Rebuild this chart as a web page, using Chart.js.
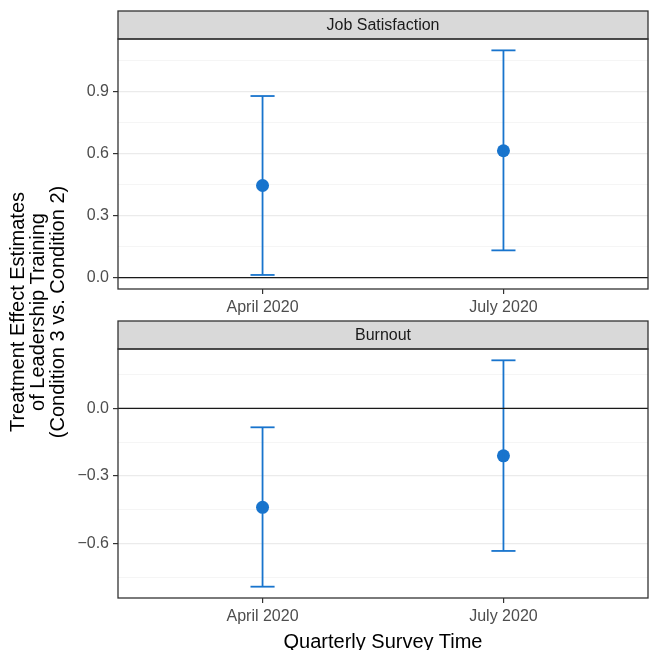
<!DOCTYPE html>
<html>
<head>
<meta charset="utf-8">
<script src="https://cdn.jsdelivr.net/npm/chart.js@4/dist/chart.umd.min.js"></script>
<style>
  body { margin: 0; background: #fff; font-family: "Liberation Sans", Arial, sans-serif; }
  #page { position: relative; width: 649px; height: 650px; overflow: hidden; }
  canvas { position: absolute; left: 0; }
  #ytitle {
    position: absolute; left: -128px; top: 282px; width: 330px; height: 60px;
    transform: rotate(-90deg); text-align: center; font-size: 20px; line-height: 20px; color: #000;
  }
  #xtitle {
    position: absolute; left: 183px; top: 631px; width: 400px; text-align: center;
    font-size: 20px; line-height: 21px; color: #000;
  }
</style>
</head>
<body>
<div id="page">
  <canvas id="topChart" width="649" height="330" style="top:0"></canvas>
  <canvas id="bottomChart" width="649" height="350" style="top:300px"></canvas>
  <div id="ytitle">Treatment Effect Estimates<br>of Leadership Training<br>(Condition 3 vs. Condition 2)</div>
  <div id="xtitle">Quarterly Survey Time</div>
</div>
<script>
const timeLabels = ['April 2020', 'July 2020'];

const jobEst  = [0.446, 0.614];
const jobLow  = [0.013, 0.132];
const jobHigh = [0.879, 1.100];
const jobMajor = [0, 0.3, 0.6, 0.9];
const jobMinor = [0.15, 0.45, 0.75, 1.05];

const burnEst  = [-0.440, -0.211];
const burnLow  = [-0.793, -0.634];
const burnHigh = [-0.084, 0.214];
const burnMajor = [-0.6, -0.3, 0];
const burnMinor = [-0.75, -0.45, -0.15, 0.15];

const blue = '#1874CD';
const capHalf = 0.05;   // errorbar width 0.1
const xMin = 0.4, xMax = 2.6;
const fontFamily = '"Liberation Sans", Arial, sans-serif';

const panelPlugin = {
  id: 'panel',
  afterDraw(chart, args, opts) {
    const ctx = chart.ctx;
    const a = chart.chartArea;
    ctx.save();
    // strip
    ctx.fillStyle = '#d9d9d9';
    ctx.fillRect(a.left, a.top - 28, a.right - a.left, 28);
    ctx.strokeStyle = '#333333';
    ctx.lineWidth = 1.3;
    ctx.strokeRect(a.left, a.top - 28, a.right - a.left, 28);
    ctx.fillStyle = '#1a1a1a';
    ctx.font = '16px ' + fontFamily;
    ctx.textAlign = 'center';
    ctx.textBaseline = 'middle';
    ctx.fillText(opts.label, (a.left + a.right) / 2, a.top - 13.5);
    // panel border
    ctx.strokeRect(a.left, a.top, a.right - a.left, a.bottom - a.top);
    ctx.restore();
  }
};

function buildChart(id, label, est, low, high, major, minor, topPad, bottomPad) {
  const lo = Math.min(0, ...low);
  const hi = Math.max(0, ...high);
  const pad = (hi - lo) * 0.05;
  const allTicks = major.concat(minor).sort((a, b) => a - b);
  const isMajor = v => major.some(m => Math.abs(m - v) < 1e-9);

  const datasets = [];
  datasets.push({
    data: [{x: xMin, y: 0}, {x: xMax, y: 0}],
    showLine: true, borderColor: '#1a1a1a', borderWidth: 1.2, pointRadius: 0
  });
  est.forEach((v, i) => {
    const x = i + 1;
    const line = {showLine: true, borderColor: blue, borderWidth: 1.8, pointRadius: 0};
    datasets.push(Object.assign({data: [{x: x, y: low[i]}, {x: x, y: high[i]}]}, line));
    datasets.push(Object.assign({data: [{x: x - capHalf, y: low[i]}, {x: x + capHalf, y: low[i]}]}, line));
    datasets.push(Object.assign({data: [{x: x - capHalf, y: high[i]}, {x: x + capHalf, y: high[i]}]}, line));
  });
  datasets.push({
    data: est.map((v, i) => ({x: i + 1, y: v})),
    showLine: false, pointRadius: 6.5, pointBackgroundColor: blue, pointBorderColor: blue, borderWidth: 0
  });

  return new Chart(document.getElementById(id), {
    type: 'scatter',
    data: { datasets: datasets },
    plugins: [panelPlugin],
    options: {
      responsive: false,
      animation: false,
      devicePixelRatio: 1,
      layout: { autoPadding: false, padding: { top: topPad, right: 1, left: 0, bottom: bottomPad } },
      plugins: {
        legend: { display: false },
        tooltip: { enabled: false },
        panel: { label: label }
      },
      scales: {
        x: {
          type: 'linear', min: xMin, max: xMax,
          afterFit: s => { s.height = 28; s.paddingLeft = 0; s.paddingRight = 0; },
          afterBuildTicks: s => { s.ticks = timeLabels.map((t, i) => ({value: i + 1})); },
          ticks: {
            callback: v => timeLabels[v - 1],
            color: '#4d4d4d', padding: 4, maxRotation: 0,
            font: { family: fontFamily, size: 16 }
          },
          grid: { drawOnChartArea: false, lineWidth: 1.2, tickLength: 5, tickColor: '#333333' },
          border: { display: false }
        },
        y: {
          type: 'linear', min: lo - pad, max: hi + pad,
          afterFit: s => { s.width = 118; s.paddingTop = 0; s.paddingBottom = 0; },
          afterBuildTicks: s => { s.ticks = allTicks.map(v => ({value: v})); },
          ticks: {
            callback: v => isMajor(v) ? v.toFixed(1).replace('-', '\u2212') : '',
            color: '#4d4d4d', padding: 4,
            font: { family: fontFamily, size: 16 }
          },
          grid: {
            color: c => isMajor(c.tick.value) ? '#ebebeb' : '#f2f2f2',
            lineWidth: c => isMajor(c.tick.value) ? 1.2 : 0.8,
            tickLength: 5,
            tickColor: c => isMajor(c.tick.value) ? '#333333' : 'rgba(0,0,0,0)'
          },
          border: { display: false }
        }
      }
    }
  });
}

buildChart('topChart', 'Job Satisfaction', jobEst, jobLow, jobHigh, jobMajor, jobMinor, 39, 13);
buildChart('bottomChart', 'Burnout', burnEst, burnLow, burnHigh, burnMajor, burnMinor, 49, 24);
</script>
</body>
</html>
